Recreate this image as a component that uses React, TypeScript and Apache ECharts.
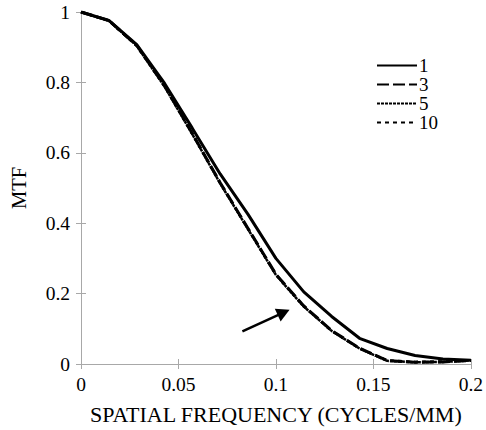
import React, { useEffect, useRef } from "react";
import * as echarts from "echarts";

const freq = [0, 0.0143, 0.0286, 0.0429, 0.0571, 0.0714, 0.0857, 0.1, 0.1143, 0.1286, 0.1429, 0.1571, 0.1714, 0.1857, 0.2];
const mtf1 = [1, 0.976, 0.907, 0.797, 0.67, 0.54, 0.425, 0.3, 0.205, 0.135, 0.073, 0.044, 0.024, 0.014, 0.011];
const mtf3 = [1, 0.976, 0.905, 0.79, 0.655, 0.515, 0.385, 0.255, 0.165, 0.095, 0.045, 0.01, 0.005, 0.006, 0.01];
const mtf5 = [1, 0.975, 0.904, 0.788, 0.653, 0.513, 0.383, 0.253, 0.163, 0.094, 0.044, 0.009, 0.005, 0.006, 0.01];
const mtf10 = [1, 0.975, 0.904, 0.789, 0.654, 0.514, 0.384, 0.254, 0.164, 0.094, 0.044, 0.01, 0.006, 0.007, 0.01];
const seriesNames = ["1", "3", "5", "10"];
const xTicks = [0, 0.05, 0.1, 0.15, 0.2];
const yTicks = [0, 0.2, 0.4, 0.6, 0.8, 1];
const arrowFrom = [0.0828, 0.093];
const arrowTo = [0.107, 0.154];

const FONT = "Liberation Serif";
const AXIS_COLOR = "#a8a8a8";

export default function App() {
  const ref = useRef<HTMLDivElement>(null);
  useEffect(() => {
    if (!ref.current) return;
    const chart = echarts.init(ref.current, undefined, { renderer: "svg" });
    const mk = (name: string, vals: number[], type: any, width: number) => ({
      name,
      type: "line",
      data: freq.map((f, i) => [f, vals[i]]),
      showSymbol: false,
      symbol: "none",
      lineStyle: { color: "#000", width, type },
      itemStyle: { color: "#000" },
      z: 3,
    });
    const baseX = {
      type: "value",
      min: xTicks[0],
      max: xTicks[xTicks.length - 1],
      interval: 0.05,
      splitLine: { show: false },
      axisLine: { show: true, lineStyle: { color: AXIS_COLOR, width: 1 } },
      axisTick: { show: true, inside: true, length: 5, lineStyle: { color: AXIS_COLOR } },
    };
    const baseY = {
      type: "value",
      min: yTicks[0],
      max: yTicks[yTicks.length - 1],
      interval: 0.2,
      splitLine: { show: false },
      axisLine: { show: true, lineStyle: { color: AXIS_COLOR, width: 1 } },
      axisTick: { show: true, inside: true, length: 5, lineStyle: { color: AXIS_COLOR } },
    };
    chart.setOption({
      animation: false,
      backgroundColor: "#fff",
      textStyle: { fontFamily: FONT },
      grid: { left: 77, right: 11, top: 12, bottom: 62 },
      legend: {
        data: seriesNames,
        orient: "vertical",
        left: 376,
        top: 56,
        padding: 0,
        itemWidth: 40,
        itemHeight: 12,
        itemGap: 0,
        itemStyle: { opacity: 0 },
        textStyle: { fontFamily: FONT, fontSize: 19, lineHeight: 18, color: "#000", padding: [0, 0, 0, -3] },
      },
      xAxis: [
        {
          ...baseX,
          position: "bottom",
          name: "SPATIAL FREQUENCY (CYCLES/MM)",
          nameLocation: "middle",
          nameGap: 39,
          nameTextStyle: { fontFamily: FONT, fontSize: 22, color: "#000" },
          axisLabel: { fontFamily: FONT, fontSize: 19.5, color: "#000", margin: 10 },
        },
        { ...baseX, position: "top", axisLabel: { show: false } },
      ],
      yAxis: [
        {
          ...baseY,
          position: "left",
          name: "MTF",
          nameLocation: "middle",
          nameGap: 52,
          nameTextStyle: { fontFamily: FONT, fontSize: 20.5, color: "#000" },
          axisLabel: { fontFamily: FONT, fontSize: 19.5, color: "#000", margin: 11 },
        },
        { ...baseY, position: "right", axisLabel: { show: false } },
      ],
      series: [
        mk(seriesNames[0], mtf1, "solid", 3),
        mk(seriesNames[1], mtf3, [12, 4], 3),
        mk(seriesNames[2], mtf5, [3, 1], 2.5),
        mk(seriesNames[3], mtf10, [4, 4], 2.5),
      ],
    });
    const p0 = chart.convertToPixel({ gridIndex: 0 }, arrowFrom) as number[];
    const p1 = chart.convertToPixel({ gridIndex: 0 }, arrowTo) as number[];
    const dx = p1[0] - p0[0];
    const dy = p1[1] - p0[1];
    const len = Math.sqrt(dx * dx + dy * dy);
    const ux = dx / len;
    const uy = dy / len;
    const headLen = 13;
    const headW = 7;
    const bx = p1[0] - ux * headLen;
    const by = p1[1] - uy * headLen;
    chart.setOption({
      graphic: [
        {
          type: "line",
          shape: { x1: p0[0], y1: p0[1], x2: bx + ux * 2, y2: by + uy * 2 },
          style: { stroke: "#000", lineWidth: 2.5 },
          z: 10,
        },
        {
          type: "polygon",
          shape: {
            points: [
              [p1[0], p1[1]],
              [bx - uy * headW, by + ux * headW],
              [bx + uy * headW, by - ux * headW],
            ],
          },
          style: { fill: "#000" },
          z: 10,
        },
      ],
    });
    return () => chart.dispose();
  }, []);
  return <div ref={ref} style={{ width: 486, height: 430, position: "fixed", left: 0, top: 0 }} />;
}
